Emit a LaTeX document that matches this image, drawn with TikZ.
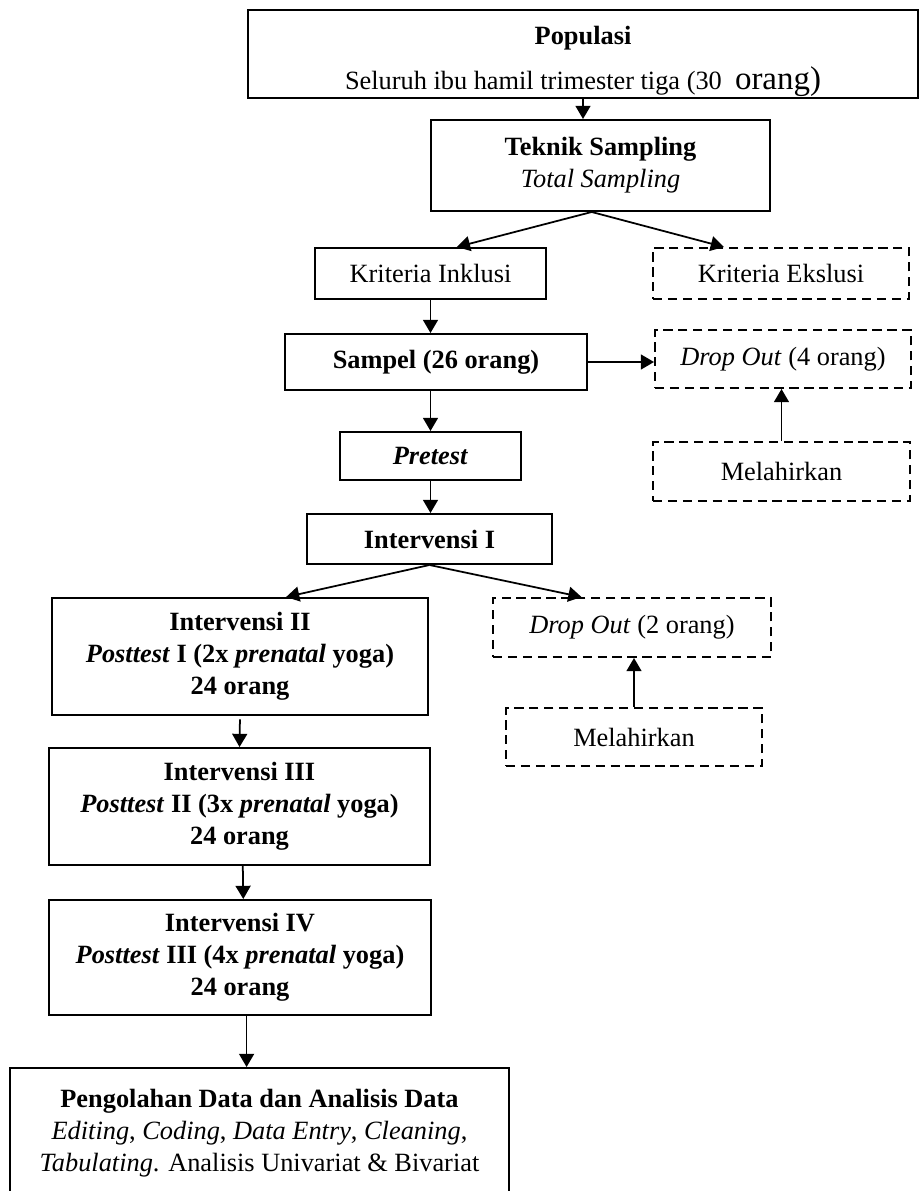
\documentclass[tikz,border=0pt]{standalone}
\usepackage{fontspec}
\setmainfont{Liberation Serif}
\usetikzlibrary{arrows.meta}

\tikzset{
  box/.style={draw, line width=0.9pt, inner sep=0pt, align=center,
    font=\fontsize{12}{14.5}\selectfont},
  dbox/.style={box, dash pattern=on 4.2pt off 2.6pt},
  sz/.style 2 args={minimum width=#1*0.016cm, minimum height=#2*0.016cm},
  link/.style={->, line width=0.8pt},
  >={Triangle[length=6pt,width=6.8pt]}
}

\begin{document}
\begin{tikzpicture}[x=0.016cm, y=-0.016cm]
  \useasboundingbox (0,0) rectangle (920,1191);

  % main column
  \node[box, sz={670}{88}] (pop) at (583,54)
    {\rule{0pt}{15pt}\textbf{Populasi}\\[6pt] Seluruh ibu hamil trimester tiga (30\ \ {\fontsize{15}{15}\selectfont orang)}};
  \node[box, sz={339}{91}] (tek) at (600.5,165.5)
    {\textbf{Teknik Sampling}\\ \textit{Total Sampling}};
  \node[box, sz={231}{51}] (inkl) at (430.5,273.5) {Kriteria Inklusi};
  \node[box, sz={302}{56}] (sampel) at (436,362) {\textbf{Sampel (26 orang)}};
  \node[box, sz={181}{48}] (pre) at (430.5,456) {\textbf{\textit{Pretest}}};
  \node[box, sz={245}{50}] (int1) at (429.5,539) {\textbf{Intervensi I}};
  \node[box, sz={376}{117}] (int2) at (240,656.5)
    {\textbf{Intervensi II}\\ \textbf{\textit{Posttest} I (2x \textit{prenatal} yoga)}\\ \textbf{24 orang}};
  \node[box, sz={381}{117}] (int3) at (239.5,806.5)
    {\textbf{Intervensi III}\\ \textbf{\textit{Posttest} II (3x \textit{prenatal} yoga)}\\ \textbf{24 orang}};
  \node[box, sz={382}{115}] (int4) at (240,957.5)
    {\textbf{Intervensi IV}\\ \textbf{\textit{Posttest} III (4x \textit{prenatal} yoga)}\\ \textbf{24 orang}};
  \node[box, sz={499}{130}] (olah) at (259.5,1133)
    {\textbf{Pengolahan Data dan Analisis Data}\\ \textit{Editing}, \textit{Coding}, \textit{Data Entry}, \textit{Cleaning},\\ \textit{Tabulating}. Analisis Univariat \& Bivariat};

  % side boxes
  \node[dbox, sz={256}{51}] (eksl) at (781,273.5) {Kriteria Ekslusi};
  \node[dbox, sz={256}{58}] (do1) at (783,359) {\textit{Drop Out} (4 orang)};
  \node[dbox, sz={257}{59}] (mel1) at (781.5,471.5) {Melahirkan};
  \node[dbox, sz={278}{59}] (do2) at (632,627.5) {\textit{Drop Out} (2 orang)};
  \node[dbox, sz={256}{58}] (mel2) at (634,737) {Melahirkan};

  \draw[link] (pop.south) -- (pop.south |- tek.north);
  \draw[link] ([xshift=-4pt]tek.south) -- ([xshift=12pt]inkl.north);
  \draw[link] ([xshift=-4pt]tek.south) -- ([xshift=-26pt]eksl.north);
  \draw[link] (inkl.south) -- (inkl.south |- sampel.north);
  \draw[link] (sampel.east) -- (sampel.east -| do1.west);
  \draw[link] (pre.north |- sampel.south) -- (pre.north);
  \draw[link] (mel1.north) -- (mel1.north |- do1.south);
  \draw[link] (pre.south) -- (pre.south |- int1.north);
  \draw[link] (int1.south) -- ([xshift=21pt]int2.north);
  \draw[link] (int1.south) -- ([xshift=-23pt]do2.north);
  \draw[link] (mel2.north) -- (mel2.north |- do2.south);
  \draw[link, shorten <=1.5pt] (int2.south) -- (int3.north);
  \draw[link] ([xshift=1.5pt]int3.south) -- ([xshift=1.5pt]int4.north);
  \draw[link] ([xshift=3pt]int4.south) -- ([xshift=3pt]int4.south |- olah.north);
\end{tikzpicture}
\end{document}
